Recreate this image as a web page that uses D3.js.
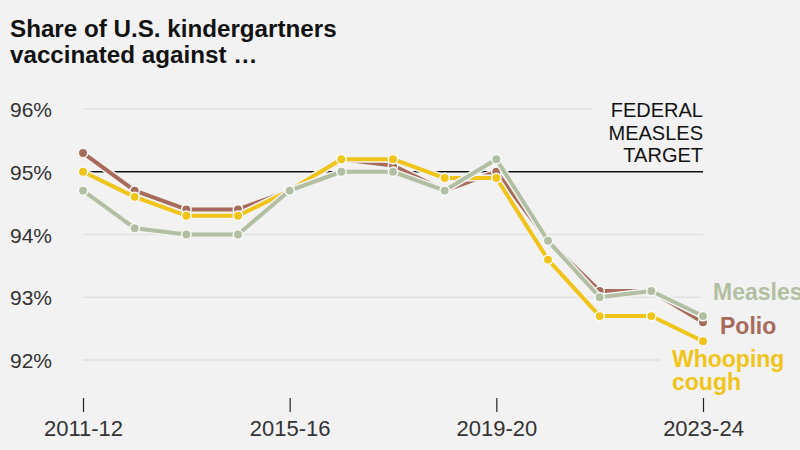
<!DOCTYPE html>
<html>
<head>
<meta charset="utf-8">
<script src="https://cdn.jsdelivr.net/npm/d3@7"></script>
<style>
  html, body { margin: 0; padding: 0; background: #f2f2f2; }
  svg { display: block; }
</style>
</head>
<body>
<svg id="chart" width="800" height="450"></svg>
<script>
// ---- Data ----
const seasons = ["2011-12","2012-13","2013-14","2014-15","2015-16","2016-17","2017-18","2018-19","2019-20","2020-21","2021-22","2022-23","2023-24"];
const polio    = [95.3, 94.7, 94.4, 94.4, 94.7, 95.2, 95.1, 94.7, 95.0, 93.9, 93.1, 93.1, 92.6];
const whooping = [95.0, 94.6, 94.3, 94.3, 94.7, 95.2, 95.2, 94.9, 94.9, 93.6, 92.7, 92.7, 92.3];
const measles  = [94.7, 94.1, 94.0, 94.0, 94.7, 95.0, 95.0, 94.7, 95.2, 93.9, 93.0, 93.1, 92.7];
const yTicks = [92, 93, 94, 95, 96];
const xTickLabels = ["2011-12","2015-16","2019-20","2023-24"];
const target = 95;
const titleLines = ["Share of U.S. kindergartners", "vaccinated against …"];
const targetLabel = ["FEDERAL", "MEASLES", "TARGET"];

const series = [
  { name: "Polio", lines: ["Polio"], values: polio, color: "#a66b5b" },
  { name: "Whooping cough", lines: ["Whooping", "cough"], values: whooping, color: "#f0c419" },
  { name: "Measles", lines: ["Measles"], values: measles, color: "#b2bfa2" }
];

// ---- Layout ----
const bg = "#f2f2f2";
const svg = d3.select("#chart");
const x = d3.scalePoint().domain(seasons).range([83, 703]).padding(0);
const y = d3.scaleLinear().domain([92, 96]).range([360, 109]);

svg.append("rect").attr("width", 800).attr("height", 450).attr("fill", bg);

// Title
const title = svg.append("text")
  .attr("x", 10).attr("y", 37)
  .attr("font-family", "'Liberation Sans', Arial, sans-serif")
  .attr("font-weight", 700).attr("font-size", 24.2).attr("fill", "#121212");
titleLines.forEach((t, i) => title.append("tspan").attr("x", 10).attr("dy", i === 0 ? 0 : 26).text(t));

// Gridlines
const grid = svg.append("g");
grid.selectAll("line").data(yTicks.filter(d => d !== target)).join("line")
  .attr("x1", x(seasons[0])).attr("x2", x(seasons[seasons.length - 1]))
  .attr("y1", d => y(d)).attr("y2", d => y(d))
  .attr("stroke", "#e1e1e1").attr("stroke-width", 1.5);

// Y axis labels
const yAxis = svg.append("g")
  .attr("transform", "translate(10,0)")
  .call(d3.axisRight(y).tickValues(yTicks).tickSize(0).tickFormat(d => d + "%"));
yAxis.select(".domain").remove();
yAxis.selectAll("text")
  .attr("x", 0).attr("dy", "0.36em")
  .attr("font-family", "'Liberation Sans', Arial, sans-serif")
  .attr("font-size", 21).attr("fill", "#333").attr("text-anchor", "start");

// X axis
const xAxis = svg.append("g")
  .attr("transform", "translate(0,398)")
  .call(d3.axisBottom(x).tickValues(xTickLabels).tickSize(14).tickPadding(8));
xAxis.select(".domain").remove();
xAxis.selectAll(".tick line").attr("stroke", "#222").attr("stroke-width", 1.2);
xAxis.selectAll("text")
  .attr("font-family", "'Liberation Sans', Arial, sans-serif")
  .attr("font-size", 22).attr("fill", "#333");

// Target annotation (with background)
const ann = svg.append("g");
const annText = ann.append("text")
  .attr("text-anchor", "end")
  .attr("font-family", "'Liberation Sans', Arial, sans-serif")
  .attr("font-size", 20).attr("fill", "#121212");
targetLabel.forEach((t, i) => annText.append("tspan")
  .attr("x", x(seasons[seasons.length - 1])).attr("y", 117 + i * 22.5).text(t));
const ab = annText.node().getBBox();
ann.insert("rect", "text")
  .attr("x", ab.x - 16).attr("y", ab.y - 2).attr("width", ab.width + 16).attr("height", ab.height)
  .attr("fill", bg);

// Series labels with background masks (drawn before lines)
const labelPos = {
  "Measles": { x: 713, y: 300 },
  "Polio": { x: 720, y: 334 },
  "Whooping cough": { x: 672, y: 367 }
};
const labelG = svg.append("g");
const labelBgG = labelG.append("g");
const labelTexts = [];
series.forEach(s => {
  const p = labelPos[s.name];
  const t = labelG.append("text")
    .attr("font-family", "'Liberation Sans', Arial, sans-serif")
    .attr("font-weight", 700).attr("font-size", 23)
    .attr("fill", s.color);
  s.lines.forEach((l, i) => t.append("tspan").attr("x", p.x).attr("y", p.y + i * 23).text(l));
  labelTexts.push(t);
});
labelTexts.forEach(t => {
  const b = t.node().getBBox();
  labelBgG.append("rect")
    .attr("x", b.x - 12).attr("y", b.y + 4).attr("width", b.width + 12).attr("height", b.height - 4)
    .attr("fill", bg);
});

// Federal target line
svg.append("line")
  .attr("x1", x(seasons[0])).attr("x2", x(seasons[seasons.length - 1]))
  .attr("y1", y(target)).attr("y2", y(target))
  .attr("stroke", "#111").attr("stroke-width", 1.5);

// Lines and dots
const line = d3.line().x((d, i) => x(seasons[i])).y(d => y(d));
series.forEach(s => {
  const g = svg.append("g");
  g.append("path").datum(s.values)
    .attr("d", line).attr("fill", "none")
    .attr("stroke", bg).attr("stroke-width", 7).attr("stroke-linejoin", "round");
  g.append("path").datum(s.values)
    .attr("d", line).attr("fill", "none")
    .attr("stroke", s.color).attr("stroke-width", 4).attr("stroke-linejoin", "round");
  g.selectAll("circle").data(s.values).join("circle")
    .attr("cx", (d, i) => x(seasons[i])).attr("cy", d => y(d))
    .attr("r", 4.7).attr("fill", s.color)
    .attr("stroke", "#fafafa").attr("stroke-width", 1.5);
});

// bring labels to top
labelG.raise();
labelBgG.lower();
</script>
</body>
</html>
